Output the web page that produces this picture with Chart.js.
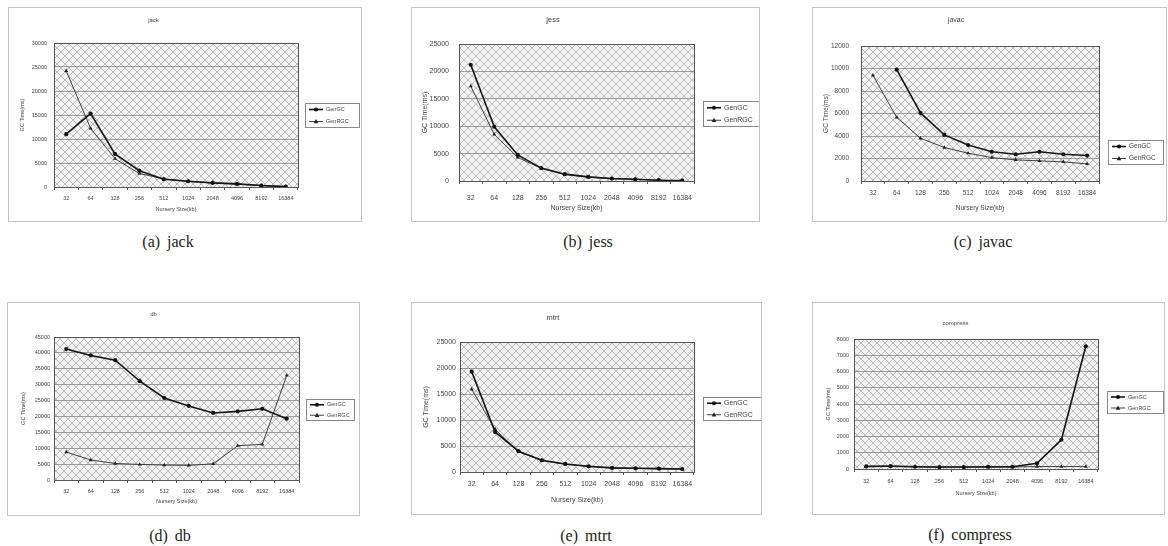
<!DOCTYPE html>
<html>
<head>
<meta charset="utf-8">
<script src="https://cdn.jsdelivr.net/npm/chart.js@4.4.1/dist/chart.umd.min.js"></script>
<style>
  html, body { margin: 0; padding: 0; background: #fff; }
  body { position: relative; width: 1168px; height: 546px; overflow: hidden; }
  .panel { position: absolute; border: 1px solid #c4c4c4; box-sizing: border-box; background: #fff; }
  .panel canvas { position: absolute; left: 0; top: 0; }
  .caption {
    position: absolute; transform: translate(-50%, -50%);
    font-family: "Liberation Serif", "DejaVu Serif", serif; font-size: 16px; color: #222;
    white-space: nowrap; word-spacing: 3px;
  }
</style>
</head>
<body>
<div id="root"></div>
<script>
// Nursery sizes (x categories)
const sizes = ['32', '64', '128', '256', '512', '1024', '2048', '4096', '8192', '16384'];
const seriesNames = ['GenGC', 'GenRGC'];

// GC time (ms)
const jackGen = [11000, 15300, 6900, 3400, 1600, 1200, 850, 650, 300, 80];
const jackRgc = [24200, 12200, 5900, 2800, 1700, 1150, 850, 600, 280, 80];
const jessGen = [21200, 9900, 4750, 2350, 1250, 750, 450, 320, 150, 80];
const jessRgc = [17300, 8500, 4300, 2300, 1200, 700, 420, 300, 140, 70];
const javacGen = [null, 9900, 6050, 4100, 3200, 2600, 2380, 2600, 2380, 2260];
const javacRgc = [9400, 5650, 3800, 2980, 2470, 2080, 1880, 1790, 1700, 1520];
const dbGen = [41200, 39200, 37700, 31100, 25800, 23300, 21100, 21600, 22400, 19300];
const dbRgc = [8800, 6300, 5200, 4900, 4700, 4600, 5100, 10800, 11200, 32900];
const mtrtGen = [19300, 7700, 4000, 2250, 1550, 1100, 800, 720, 650, 580];
const mtrtRgc = [15900, 8200, 3900, 2200, 1500, 1050, 760, 680, 620, 560];
const compGen = [160, 180, 140, 120, 120, 140, 140, 350, 1800, 7550];
const compRgc = [140, 150, 130, 110, 110, 120, 120, 150, 150, 150];

// y axis ranges
const yMax = [30000, 25000, 12000, 45000, 25000, 8000];
const yStep = [5000, 5000, 2000, 5000, 5000, 1000];

const titles = ['jack', 'jess', 'javac', 'db', 'mtrt', 'compress'];
const captions = ['(a) jack', '(b) jess', '(c) javac', '(d) db', '(e) mtrt', '(f) compress'];
const gens = [jackGen, jessGen, javacGen, dbGen, mtrtGen, compGen];
const rgcs = [jackRgc, jessRgc, javacRgc, dbRgc, mtrtRgc, compRgc];

// panel layout (box + plot area relative to the box)
const panels = [
    { left: 8, top: 7, w: 354, h: 215, plotL: 45, plotR: 289, plotT: 35, plotB: 179, titleY: 12, tickY: 190, xTitleY: 201, yTitleX: 13, tickRight: 38, font: 5.5, legend: { x: 296, y: 95, w: 54, h: 24 }, cap: [168, 242] },
    { left: 411, top: 7, w: 349, h: 215, plotL: 47, plotR: 282, plotT: 36, plotB: 173, titleY: 12, tickY: 190, xTitleY: 200, yTitleX: 13, tickRight: 37, font: 7, legend: { x: 291, y: 93, w: 56, h: 25 }, cap: [588, 242] },
    { left: 812, top: 7, w: 355, h: 215, plotL: 48, plotR: 286, plotT: 38, plotB: 173, titleY: 12, tickY: 185, xTitleY: 200, yTitleX: 13, tickRight: 36, font: 6.5, legend: { x: 295, y: 132, w: 55, h: 24 }, cap: [983, 242] },
    { left: 7, top: 302, w: 353, h: 214, plotL: 46, plotR: 291, plotT: 34, plotB: 177, titleY: 11, tickY: 188, xTitleY: 198, yTitleX: 15, tickRight: 42, font: 5.5, legend: { x: 298, y: 96, w: 48, h: 21 }, cap: [170, 536] },
    { left: 411, top: 302, w: 351, h: 213, plotL: 48, plotR: 282, plotT: 39, plotB: 169, titleY: 15, tickY: 181, xTitleY: 197, yTitleX: 14, tickRight: 44, font: 7, legend: { x: 291, y: 94, w: 58, h: 23 }, cap: [586, 536] },
    { left: 812, top: 302, w: 353, h: 213, plotL: 41, plotR: 285, plotT: 36, plotB: 166, titleY: 20, tickY: 178, xTitleY: 190, yTitleX: 15, tickRight: 36, font: 5.5, legend: { x: 294, y: 88, w: 56, h: 22 }, cap: [970, 535] }
];

const FONT = '"Liberation Sans", Arial, sans-serif';

// cross-hatch fill like the old Excel plot area
function makeHatch() {
    const c = document.createElement('canvas');
    c.width = 8; c.height = 8;
    const g = c.getContext('2d');
    g.fillStyle = '#f3f3f3';
    g.fillRect(0, 0, 8, 8);
    g.strokeStyle = '#bcbcbc';
    g.lineWidth = 1;
    g.beginPath();
    g.moveTo(0, 0); g.lineTo(8, 8);
    g.moveTo(8, 0); g.lineTo(0, 8);
    g.stroke();
    return c;
}
const hatchTile = makeHatch();

const plotArea = {
    id: 'plotArea',
    beforeDraw(chart) {
        const { ctx, chartArea: a } = chart;
        ctx.save();
        ctx.fillStyle = ctx.createPattern(hatchTile, 'repeat');
        ctx.fillRect(a.left, a.top, a.right - a.left, a.bottom - a.top);
        ctx.restore();
    },
    afterDatasetsDraw(chart) {
        const { ctx, chartArea: a } = chart;
        ctx.save();
        ctx.strokeStyle = '#555';
        ctx.lineWidth = 1;
        ctx.strokeRect(Math.round(a.left) + 0.5, Math.round(a.top) + 0.5, Math.round(a.right - a.left), Math.round(a.bottom - a.top));
        ctx.restore();
    }
};

function drawMarker(ctx, style, x, y, r) {
    ctx.beginPath();
    if (style === 'triangle') {
        ctx.moveTo(x, y - r * 1.1);
        ctx.lineTo(x + r, y + r * 0.8);
        ctx.lineTo(x - r, y + r * 0.8);
        ctx.closePath();
    } else {
        ctx.arc(x, y, r, 0, Math.PI * 2);
    }
    ctx.fill();
}

const boxLegend = {
    id: 'boxLegend',
    afterDraw(chart, args, opts) {
        const ctx = chart.ctx;
        ctx.save();
        ctx.fillStyle = '#fff';
        ctx.fillRect(opts.x, opts.y, opts.w, opts.h);
        ctx.strokeStyle = '#888';
        ctx.lineWidth = 1;
        ctx.strokeRect(opts.x + 0.5, opts.y + 0.5, opts.w, opts.h);
        const rowH = opts.h / 2;
        chart.data.datasets.forEach((ds, i) => {
            const cy = opts.y + rowH * (i + 0.5) + 0.5;
            const x0 = opts.x + 4, x1 = opts.x + 18;
            ctx.strokeStyle = ds.borderColor;
            ctx.lineWidth = ds.borderWidth;
            ctx.beginPath();
            ctx.moveTo(x0, cy); ctx.lineTo(x1, cy);
            ctx.stroke();
            ctx.fillStyle = ds.pointBackgroundColor;
            drawMarker(ctx, ds.pointStyle, (x0 + x1) / 2, cy, ds.pointRadius);
            ctx.fillStyle = '#444';
            ctx.font = opts.font + 'px ' + FONT;
            ctx.textBaseline = 'middle';
            ctx.fillText(ds.label, x1 + 3, cy);
        });
        ctx.restore();
    }
};

function buildChart(i) {
    const p = panels[i];
    const root = document.getElementById('root');
    const box = document.createElement('div');
    box.className = 'panel';
    box.style.left = p.left + 'px';
    box.style.top = p.top + 'px';
    box.style.width = p.w + 'px';
    box.style.height = p.h + 'px';
    const canvas = document.createElement('canvas');
    canvas.width = p.w - 2;
    canvas.height = p.h - 2;
    box.appendChild(canvas);
    root.appendChild(box);

    const cap = document.createElement('div');
    cap.className = 'caption';
    cap.textContent = captions[i];
    cap.style.left = p.cap[0] + 'px';
    cap.style.top = p.cap[1] + 'px';
    root.appendChild(cap);

    const cw = p.w - 2, ch = p.h - 2;
    const tf = p.font + 0.5;
    const tlh = tf * 1.2;
    const flh = p.font * 1.2;
    const xTickLen = 3;

    new Chart(canvas, {
        type: 'line',
        data: {
            labels: sizes,
            datasets: [
                {
                    label: seriesNames[0], data: gens[i],
                    borderColor: '#151515', borderWidth: 1.6,
                    pointStyle: 'circle', pointRadius: 2.1,
                    pointBackgroundColor: '#111', pointBorderColor: '#111', pointBorderWidth: 0,
                    tension: 0, spanGaps: false
                },
                {
                    label: seriesNames[1], data: rgcs[i],
                    borderColor: '#404040', borderWidth: 1,
                    pointStyle: 'triangle', pointRadius: 2.3,
                    pointBackgroundColor: '#222', pointBorderColor: '#222', pointBorderWidth: 0,
                    tension: 0
                }
            ]
        },
        options: {
            responsive: false,
            animation: false,
            events: [],
            layout: { padding: { left: 0, right: cw - p.plotR, top: 0, bottom: 0 } },
            plugins: {
                legend: { display: false },
                tooltip: { enabled: false },
                title: {
                    display: true, text: titles[i], color: '#444',
                    font: { family: FONT, size: tf, weight: 'normal' },
                    padding: { top: p.titleY - tlh / 2, bottom: p.plotT - p.titleY - tlh / 2 }
                },
                boxLegend: Object.assign({ font: p.font }, p.legend)
            },
            scales: {
                x: {
                    type: 'category',
                    offset: true,
                    afterFit(scale) { scale.height = ch - p.plotB; },
                    grid: { display: true, drawOnChartArea: false, drawTicks: true, tickLength: xTickLen, color: '#555', offset: true },
                    border: { display: true, color: '#555' },
                    ticks: {
                        color: '#444', font: { family: FONT, size: p.font },
                        maxRotation: 0, autoSkip: false,
                        padding: p.tickY - p.plotB - xTickLen - flh / 2
                    },
                    title: {
                        display: true, text: 'Nursery Size(kb)', color: '#444',
                        font: { family: FONT, size: p.font },
                        padding: { top: 0, bottom: ch - p.xTitleY - flh / 2 }
                    }
                },
                y: {
                    min: 0, max: yMax[i],
                    afterFit(scale) { scale.width = p.plotL; },
                    grid: { color: '#8a8a8a', lineWidth: 0.8, drawTicks: false },
                    border: { display: true, color: '#555' },
                    ticks: {
                        stepSize: yStep[i], color: '#444',
                        font: { family: FONT, size: p.font },
                        padding: p.plotL - p.tickRight,
                        callback: (v) => String(v)
                    },
                    title: {
                        display: true, text: 'GC Time(ms)', color: '#444',
                        font: { family: FONT, size: p.font },
                        padding: { top: p.yTitleX - flh / 2, bottom: 0 }
                    }
                }
            }
        },
        plugins: [plotArea, boxLegend]
    });
}

// dashed horizontal gridlines
Chart.defaults.scale.grid.borderDash = [3, 3];

for (let i = 0; i < panels.length; i++) {
    buildChart(i);
}
</script>
</body>
</html>
